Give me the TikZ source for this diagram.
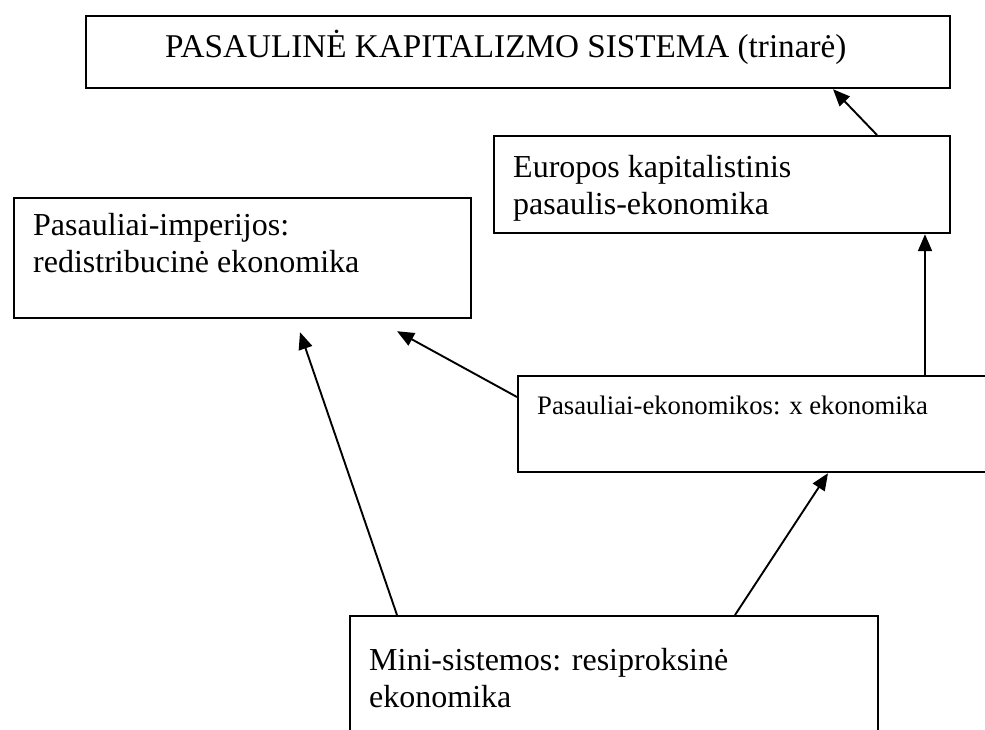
\documentclass[tikz,border=0pt]{standalone}
\usepackage{fontspec}
\setmainfont{Liberation Serif}
\usetikzlibrary{arrows.meta}
\tikzset{
  boks/.style={draw=black, line width=2.2pt, rectangle, anchor=north west, inner sep=0pt},
  pil/.style={line width=1.9pt, -{Triangle[length=17pt,width=14pt]}},
  tekst/.style={anchor=base west, align=left, inner sep=0pt, font=\fontsize{32}{37}\selectfont},
}
\begin{document}
\begin{tikzpicture}[x=1pt, y=-1pt]
  \useasboundingbox (0,0) rectangle (985,729);
  \clip (0,0) rectangle (985,729);

  % Dėžės
  \node[boks, minimum width=864pt, minimum height=72pt] (sistema) at (85,15) {};
  \node[boks, minimum width=456pt, minimum height=97pt] (europos) at (493,135) {};
  \node[boks, minimum width=457pt, minimum height=120pt] (imperijos) at (13,197) {};
  \node[boks, minimum width=520pt, minimum height=96pt] (xekon) at (517,375) {};
  \node[boks, minimum width=528pt, minimum height=150pt] (mini) at (349,615) {};

  % Tekstai (base = paskutinės eilutės linija)
  \node[tekst, font=\fontsize{33.2}{38}\selectfont] (sistema-t) at (165,57) {PASAULINĖ KAPITALIZMO SISTEMA (trinarė)};
  \node[tekst] (europos-t) at (513,214) {Europos kapitalistinis\\pasaulis-ekonomika};
  \node[tekst] (imperijos-t) at (33,272) {Pasauliai-imperijos:\\redistribucinė ekonomika};
  \node[tekst, font=\fontsize{26.7}{31}\selectfont] (xekon-t) at (537,414) {Pasauliai-ekonomikos: x ekonomika};
  \node[tekst] (mini-t) at (369,707) {Mini-sistemos: resiproksinė\\ekonomika};

  % Rodyklės
  \draw[pil] ([xshift=384pt]europos.north west) -- ([xshift=748pt]sistema.south west);
  \draw[pil] ([xshift=408pt]xekon.north west) -- ([xshift=432pt]europos.south west);
  \draw[pil] ([yshift=-22pt]xekon.north west) -- ([xshift=384pt,yshift=-12pt]imperijos.south west);
  \draw[pil] ([xshift=48pt]mini.north west) -- ([xshift=287pt,yshift=-13pt]imperijos.south west);
  \draw[pil] ([xshift=386pt]mini.north west) -- ([xshift=311pt]xekon.south west);
\end{tikzpicture}
\end{document}
